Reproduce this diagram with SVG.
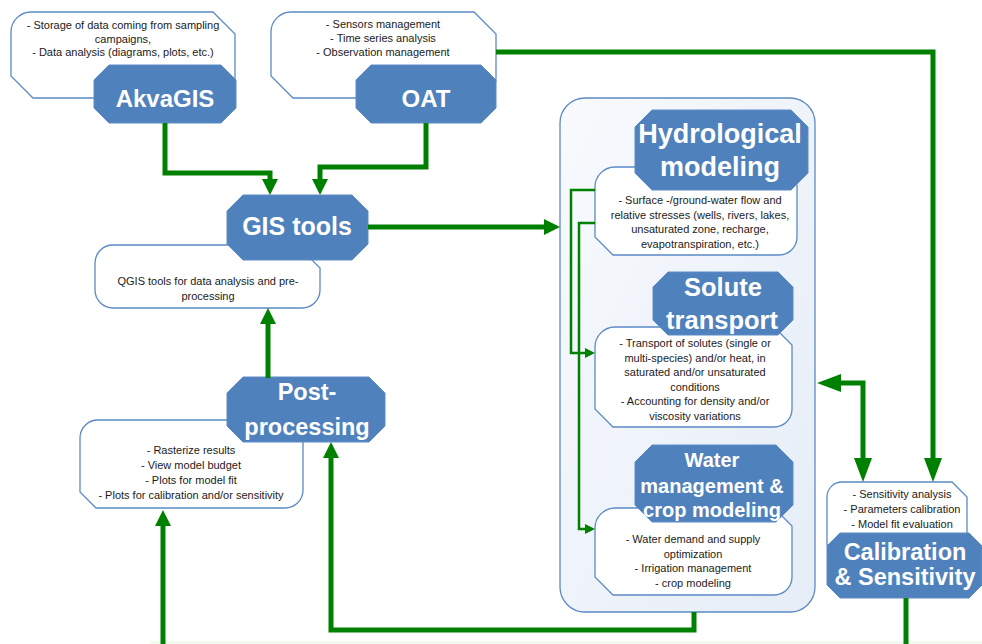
<svg xmlns="http://www.w3.org/2000/svg" width="982" height="644" viewBox="0 0 982 644">
<style>
.info{fill:#ffffff;stroke:#5b8ac6;stroke-width:1.3}
.blue{fill:#4f81bd;stroke:#5d8cc6;stroke-width:1}
.t{font-family:"Liberation Sans",Arial,sans-serif;font-weight:bold;fill:#ffffff;text-anchor:middle}
.s{font-family:"Liberation Sans",Arial,sans-serif;font-size:11px;fill:#1b1b1b;text-anchor:middle}
.c{fill:none;stroke:#008000;stroke-width:5;stroke-linejoin:miter}
.thin{fill:none;stroke:#008000;stroke-width:2.5}
</style>
<defs>
<linearGradient id="cg" x1="0" y1="0" x2="1" y2="1">
<stop offset="0" stop-color="#f8fafd"/>
<stop offset="1" stop-color="#e6edf7"/>
</linearGradient>
<marker id="ah" markerUnits="userSpaceOnUse" markerWidth="16" markerHeight="16" viewBox="0 0 16 16" refX="6" refY="8" orient="auto"><path d="M0,0 L16,8 L0,16 Z" fill="#008000"/></marker>
<marker id="ahL" markerUnits="userSpaceOnUse" markerWidth="24" markerHeight="18" viewBox="0 0 24 18" refX="14" refY="9" orient="auto"><path d="M0,0 L24,9 L0,18 Z" fill="#008000"/></marker>
<marker id="ahLs" markerUnits="userSpaceOnUse" markerWidth="24" markerHeight="18" viewBox="0 0 24 18" refX="14" refY="9" orient="auto-start-reverse"><path d="M0,0 L24,9 L0,18 Z" fill="#008000"/></marker>
<marker id="ahS" markerUnits="userSpaceOnUse" markerWidth="10" markerHeight="10" viewBox="0 0 10 10" refX="5" refY="5" orient="auto"><path d="M0,0 L10,5 L0,10 Z" fill="#008000"/></marker>
</defs>
<rect x="0" y="0" width="982" height="644" fill="#ffffff"/>
<rect x="150" y="641" width="832" height="3" fill="#f2f9ef"/>

<g id="modeling-container">
<rect x="560" y="98" width="255" height="514" rx="25" ry="25" fill="url(#cg)" stroke="#5b8ac6" stroke-width="1.3"/>
</g>

<g id="akvagis">
<path class="info" d="M31,12 H213 L235,34 V78 A20,20 0 0 1 215,98 H33 L11,76 V32 A20,20 0 0 1 31,12 Z"/>
<text class="s" x="123" y="29">- Storage of data coming from sampling</text>
<text class="s" x="123" y="42.5">campaigns,</text>
<text class="s" x="123" y="56">- Data analysis (diagrams, plots, etc.)</text>
<path class="blue" d="M109,65 H221 L236,80 V108 L221,123 H109 L94,108 V80 Z"/>
<text class="t" x="165" y="107" font-size="24">AkvaGIS</text>
</g>

<g id="oat">
<path class="info" d="M291,12 H474 L496,34 V78 A20,20 0 0 1 476,98 H293 L271,76 V32 A20,20 0 0 1 291,12 Z"/>
<text class="s" x="383" y="28">- Sensors management</text>
<text class="s" x="383" y="42">- Time series analysis</text>
<text class="s" x="383" y="56">- Observation management</text>
<path class="blue" d="M371,65 H481 L496,80 V108 L481,123 H371 L356,108 V80 Z"/>
<text class="t" x="426" y="107" font-size="24">OAT</text>
</g>

<g id="gis-tools">
<path class="info" d="M113,245 H297 L320,268 V290 A18,18 0 0 1 302,308 H113 A18,18 0 0 1 95,290 V263 A18,18 0 0 1 113,245 Z"/>
<text class="s" x="208" y="285">QGIS tools for data analysis and pre-</text>
<text class="s" x="208" y="300">processing</text>
<path class="blue" d="M243,195 H352 L368,211 V244 L352,260 H243 L227,244 V211 Z"/>
<text class="t" x="297" y="235" font-size="25">GIS tools</text>
</g>

<g id="hydrological-modeling">
<path class="info" d="M615,167 H779 L797,185 V237 A18,18 0 0 1 779,255 H613 L595,237 V187 A20,20 0 0 1 615,167 Z"/>
<text class="s" x="700" y="204">- Surface -/ground-water flow and</text>
<text class="s" x="700" y="218.5">relative stresses (wells, rivers, lakes,</text>
<text class="s" x="700" y="233">unsaturated zone, recharge,</text>
<text class="s" x="700" y="247.5">evapotranspiration, etc.)</text>
<path class="blue" d="M652,110 H791 L808,127 V173 L791,190 H652 L635,173 V127 Z"/>
<text class="t" x="720" y="143" font-size="27">Hydrological</text>
<text class="t" x="720" y="176" font-size="27">modeling</text>
</g>

<g id="solute-transport">
<path class="info" d="M615,327 H774 L792,345 V409 A18,18 0 0 1 774,427 H613 L595,409 V347 A20,20 0 0 1 615,327 Z"/>
<text class="s" x="695" y="347">- Transport of solutes (single or</text>
<text class="s" x="695" y="361.5">multi-species) and/or heat, in</text>
<text class="s" x="695" y="376">saturated and/or unsaturated</text>
<text class="s" x="695" y="390.5">conditions</text>
<text class="s" x="695" y="405">- Accounting for density and/or</text>
<text class="s" x="695" y="419.5">viscosity variations</text>
<path class="blue" d="M668,272 H778 L793,287 V320 L778,335 H668 L653,320 V287 Z"/>
<text class="t" x="723" y="296" font-size="25.5">Solute</text>
<text class="t" x="722" y="329" font-size="25.5">transport</text>
</g>

<g id="water-management">
<path class="info" d="M615,508 H774 L792,526 V577 A18,18 0 0 1 774,595 H613 L595,577 V528 A20,20 0 0 1 615,508 Z"/>
<text class="s" x="693" y="543">- Water demand and supply</text>
<text class="s" x="693" y="557.5">optimization</text>
<text class="s" x="693" y="572">- Irrigation management</text>
<text class="s" x="693" y="586.5">- crop modeling</text>
<path class="blue" d="M652,445 H776 L793,462 V505 L776,522 H652 L635,505 V462 Z"/>
<text class="t" x="712" y="467" font-size="20">Water</text>
<text class="t" x="712" y="493" font-size="20">management &amp;</text>
<text class="t" x="712" y="517" font-size="20">crop modeling</text>
</g>

<g id="post-processing">
<path class="info" d="M98,420 H285 L303,438 V490 A18,18 0 0 1 285,508 H96 L80,492 V438 A18,18 0 0 1 98,420 Z"/>
<text class="s" x="191" y="454">- Rasterize results</text>
<text class="s" x="191" y="469">- View model budget</text>
<text class="s" x="191" y="484">- Plots for model fit</text>
<text class="s" x="191" y="499">- Plots for calibration and/or sensitivity</text>
<path class="blue" d="M243,377 H369 L385,393 V426 L369,442 H243 L227,426 V393 Z"/>
<text class="t" x="307" y="400" font-size="23.5">Post-</text>
<text class="t" x="307" y="435" font-size="23.5">processing</text>
</g>

<g id="calibration">
<path class="info" d="M842,482 H952 L967,497 V545 H827 V497 A15,15 0 0 1 842,482 Z"/>
<text class="s" x="902" y="498">- Sensitivity analysis</text>
<text class="s" x="902" y="513">- Parameters calibration</text>
<text class="s" x="902" y="528">- Model fit evaluation</text>
<path class="blue" d="M840,533 H969 L982,546 V585 L969,598 H840 L827,585 V546 Z"/>
<text class="t" x="905" y="560" font-size="23.5">Calibration</text>
<text class="t" x="905" y="585" font-size="23.5">&amp; Sensitivity</text>
</g>

<g id="connectors">
<path class="c" d="M165,123 V173 H270 V185" marker-end="url(#ah)"/>
<path class="c" d="M426,123 V167 H320 V185" marker-end="url(#ah)"/>
<path class="c" d="M368,227 H550" marker-end="url(#ah)"/>
<path class="thin" d="M595,190 H571 V353 H590" marker-end="url(#ahS)"/>
<path class="thin" d="M595,223 H579 V529 H590" marker-end="url(#ahS)"/>
<path class="c" d="M496,52 H933 V472" marker-end="url(#ahL)"/>
<path class="c" d="M827,383 H863 V472" marker-start="url(#ahLs)" marker-end="url(#ahLs)"/>
<path class="c" d="M694,612 V630 H331 V452" marker-end="url(#ah)"/>
<path class="c" d="M268,378 V318" marker-end="url(#ah)"/>
<path class="c" d="M163,644 V520" marker-end="url(#ah)"/>
<path class="c" d="M906,598 V644"/>
</g>
</svg>
